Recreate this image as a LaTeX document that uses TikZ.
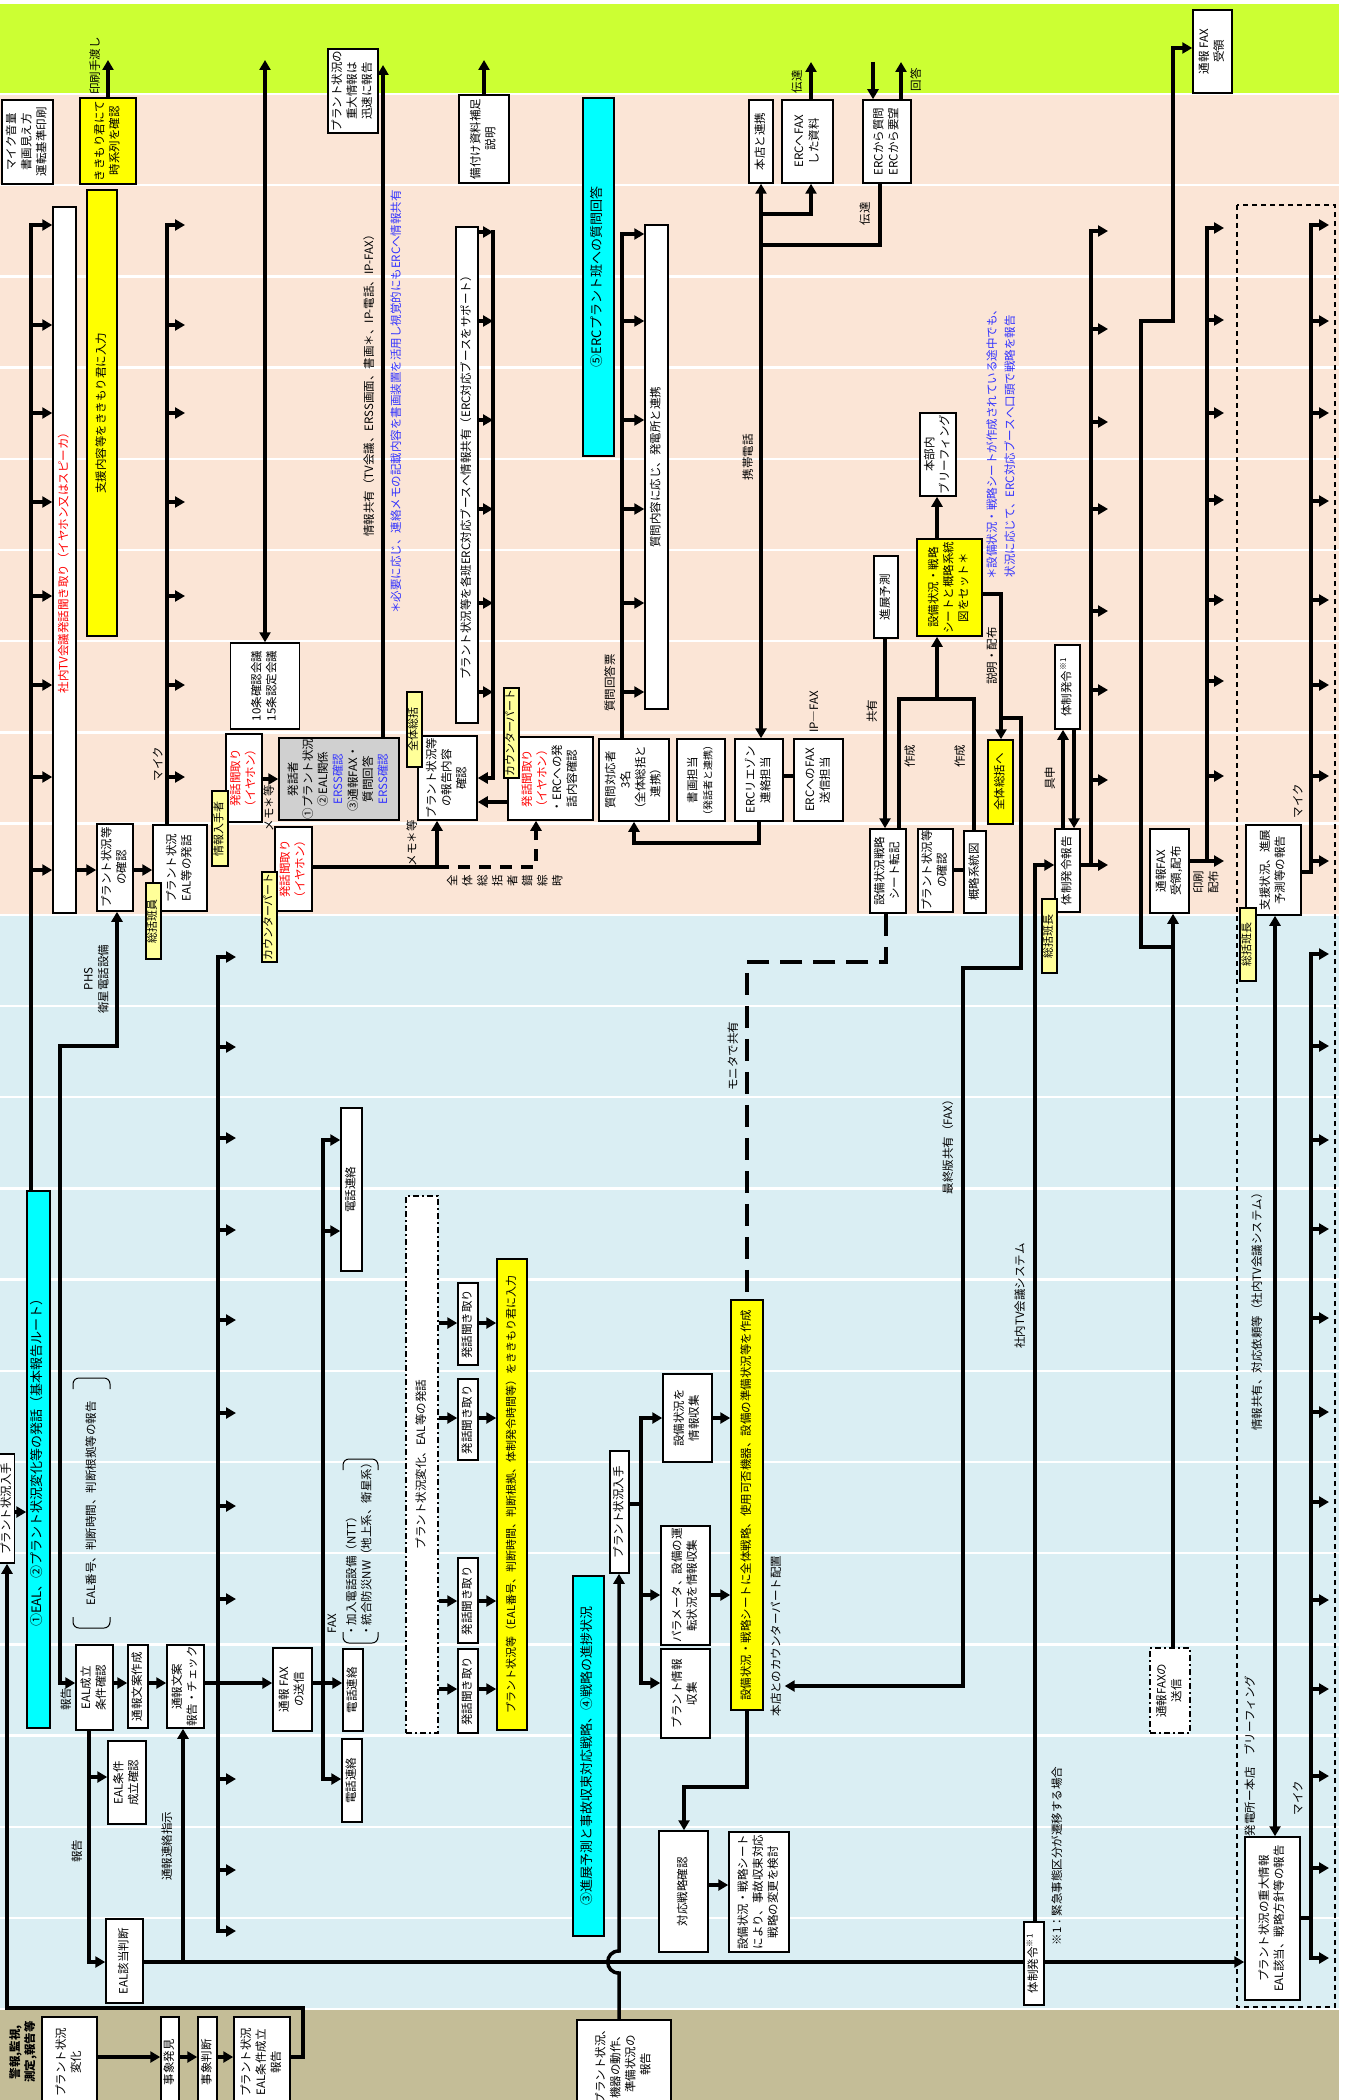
\documentclass[tikz,border=0pt]{standalone}
\usepackage{fontspec}
\setmainfont{Noto Sans CJK JP}
\usepackage{graphicx}
\usetikzlibrary{arrows.meta,positioning,calc}
\definecolor{bandgreen}{RGB}{204,255,51}
\definecolor{bandpeach}{RGB}{251,229,214}
\definecolor{bandblue}{RGB}{218,238,243}
\definecolor{bandtan}{RGB}{196,189,151}
\definecolor{tagyellow}{RGB}{255,255,153}
\definecolor{boxcyan}{RGB}{0,255,255}
\definecolor{boxyellow}{RGB}{255,255,0}
\definecolor{notered}{RGB}{255,0,0}
\definecolor{noteblue}{RGB}{51,51,255}
\definecolor{boxgray}{RGB}{208,208,208}
\newcommand{\vt}[1]{\rotatebox{90}{\begin{tabular}{@{}c@{}}#1\end{tabular}}}
\newcommand{\vtl}[1]{\rotatebox{90}{\begin{tabular}{@{}l@{}}#1\end{tabular}}}

\begin{document}
\begin{tikzpicture}[x=1pt,y=-1pt,
  every node/.style={font=\fontsize{11.5}{15}\selectfont},
  box/.style={draw,line width=1.5pt,fill=white,inner sep=0pt},
  ybox/.style={box,fill=boxyellow},
  cbox/.style={box,fill=boxcyan,font=\fontsize{13}{16}\selectfont},
  gbox/.style={box,fill=boxgray},
  ddbox/.style={box,dash pattern=on 6pt off 3pt on 2pt off 3pt},
  tag/.style={draw,line width=1.2pt,fill=tagyellow,inner sep=0pt,font=\fontsize{11}{13}\selectfont},
  lbl/.style={inner sep=0pt},
  wire/.style={line width=3.5pt},
  flow/.style={line width=3.5pt,-{Triangle[length=10pt,width=11pt]}},
  twoway/.style={line width=3.5pt,{Triangle[length=10pt,width=11pt]}-{Triangle[length=10pt,width=11pt]}},
  mdash/.style={line width=3.5pt,dash pattern=on 22pt off 11pt},
  sdash/.style={line width=3.5pt,dash pattern=on 12pt off 9pt}]

\useasboundingbox (0,0) rectangle (1367,2100);
\clip (0,0) rectangle (1367,2100);

% background bands
\fill[bandgreen] (0,4) rectangle (1339,94);
\fill[bandpeach] (0,94) rectangle (1339,915);
\fill[bandblue] (0,915) rectangle (1339,2009);
\fill[bandtan] (0,2009) rectangle (1339,2100);
\foreach \k in {0,...,21}
  \draw[white,line width=2.5pt] (0,94+91.2*\k) -- (1339,94+91.2*\k);

% ---------- left columns (peach)
\node[box,minimum width=51,minimum height=84] (mic) at (27.5,142) {\vt{マイク音量\\書画見え方\\運転基準印刷}};
\node[ybox,minimum width=56,minimum height=86] (kikichk) at (108,141) {\vt{ききもり君にて\\時系列を確認}};
\draw[flow] (kikichk.north) -- (108,60);
\node[lbl] (handout) at (96,66) {\vt{印刷手渡し}};
\node[ybox,minimum width=30,minimum height=446] (kikiin) at (102,413) {\vt{支援内容等をききもり君に入力}};
\node[box,text=notered,minimum width=23,minimum height=706] (tvlisten) at (64.5,560) {\vt{社内TV会議発話聞き取り（イヤホン又はスピーカ）}};

\node[box,minimum width=36,minimum height=87] (pcheck) at (115,867.5) {\vt{プラント状況等\\の確認}};
\node[box,minimum width=54,minimum height=86] (pspeak) at (180,868) {\vt{プラント状況\\EAL等の発話}};
\node[tag,minimum width=15,minimum height=76] (sokatsuA) at (153.5,921) {\vt{総括班員}};
\draw[flow] (tvlisten.east |- 0,870) -- (pcheck.west |- 0,870);
\draw[flow] (pcheck.east |- 0,870) -- (pspeak.west |- 0,870);

\node[cbox,minimum width=23,minimum height=537] (eal) at (38.5,1459.5) {\vt{①EAL、②プラント状況変化等の発話（基本報告ルート）}};

% speaker rake 1 (into TV listening)
\draw[flow] (eal.north -| 31,0) |- (tvlisten.west |- 0,225);
\foreach \yy in {325,413,502,596,685,777,870}
  \draw[flow] (31,\yy) -- (tvlisten.west |- 0,\yy);

% speaker rake 2 (microphone)
\draw[flow] (pspeak.north -| 167,0) |- (185,225);
\foreach \yy in {325,413,502,596,685,777}
  \draw[flow] (167,\yy) -- (185,\yy);
\node[lbl] (micA) at (159,764) {\vt{マイク}};

% 10/15 meetings
\node[box,minimum width=69,minimum height=86] (kaigi) at (265,686) {\vt{10条確認会議\\15条認定会議}};
\draw[twoway] (265,60) -- (kaigi.north);

% earphone listeners and speaker
\node[box,text=notered,minimum width=36,minimum height=88] (earA) at (244,778) {\vt{発話聞取り\\（イヤホン）}};
\node[tag,minimum width=16,minimum height=75] (infoget) at (220,828.5) {\vt{情報入手者}};
\node[gbox,minimum width=120,minimum height=82] (speaker) at (339,779) {\vt{発話者\\①プラント状況\\②EAL関係\\{\color{noteblue}ERSS確認}\\③通報FAX・\\質問回答\\{\color{noteblue}ERSS確認}}};
\draw[flow] (earA.east |- 0,779) -- (speaker.west |- 0,779);
\node[lbl] (memoA) at (270,808) {\vt{メモ＊等}};
\node[box,text=notered,minimum width=37,minimum height=84] (earB) at (293.5,869) {\vt{発話聞取り\\（イヤホン）}};
\node[tag,minimum width=15,minimum height=90] (cpartA) at (269.5,917) {\vt{カウンターパート}};

\node[box,minimum width=50,minimum height=84] (jyudai) at (353,91) {\vt{プラント状況の\\重大情報は\\迅速に報告}};
\draw[flow] (speaker.north -| 383,0) -- (383,65);
\node[lbl] (sharenote) at (370,383) {\vt{情報共有（TV会議、ERSS画面、書画＊、IP-電話、IP-FAX）}};
\node[lbl,text=noteblue] (memonote) at (397,402) {\vt{＊必要に応じ、連絡メモの記載内容を書画装置を活用し視覚的にもERCへ情報共有}};

% report check and ERC booth sharing
\node[box,minimum width=59,minimum height=84] (repchk) at (447.5,778) {\vt{プラント状況等\\の報告内容\\確認}};
\node[tag,minimum width=15,minimum height=75] (allsum) at (414.5,729.5) {\vt{全体総括}};
\node[box,minimum width=22,minimum height=496] (ercinfo) at (467,475) {\vt{プラント状況等を各班ERC対応ブースへ情報共有（ERC対応ブースをサポート）}};
\draw[flow] (493,230.3) -- (493,778) -- (repchk.east);
\foreach \yy in {232,321,420,509,603,692}
  \draw[flow] (ercinfo.east |- 0,\yy) -- (493,\yy);
\node[box,minimum width=85,minimum height=83] (ercspk) at (550.5,778.5) {\vt{{\color{notered}発話聞取り}\\{\color{notered}（イヤホン）}\\・ERCへの発\\話内容確認}};
\node[tag,minimum width=15,minimum height=90] (cpartB) at (511.5,733) {\vt{カウンターパート}};
\draw[flow] (ercspk.west |- 0,802) -- (repchk.east |- 0,802);
\draw[flow] (earB.east |- 0,867) -| (repchk.south -| 437,0);
\draw[flow,sdash] (437,867) -| (ercspk.south -| 536,0);
\node[lbl] (memoB) at (413,843) {\vt{メモ＊等}};
\node[lbl] (busy) at (506,881) {\vt{全\\体\\総\\括\\者\\錯\\綜\\時}};

% ERC answer column
\node[box,minimum width=50,minimum height=88] (bizuke) at (484,139) {\vt{備付け資料補足\\説明}};
\draw[flow] (bizuke.north) -- (484,60);
\node[cbox,minimum width=31,minimum height=358] (erc5) at (598.5,277) {\vt{⑤ERCプラント班への質問回答}};
\node[box,minimum width=23,minimum height=484] (qtall) at (656.5,467) {\vt{質問内容に応じ、発電所と連携}};
\node[box,minimum width=70,minimum height=82] (qresp) at (634,780) {\vt{質問対応者\\3名\\（全体総括と\\連携）}};
\draw[flow] (qresp.north -| 622,0) |- (qtall.west |- 0,234);
\foreach \yy in {321,420,509,603,692}
  \draw[flow] (622,\yy) -- (qtall.west |- 0,\yy);
\node[lbl] (qsheet) at (611,683) {\vt{質問回答票}};
\node[box,minimum width=48,minimum height=82] (shoga) at (701,780) {\vt{書画担当\\{\fontsize{10}{13}\selectfont（発話者と連携）}}};
\node[box,minimum width=48,minimum height=82] (liaison) at (759,780) {\vt{ERCリエゾン\\連絡担当}};
\node[box,minimum width=49,minimum height=82] (faxsend) at (818.5,780) {\vt{ERCへのFAX\\送信担当}};
\draw[wire] (liaison.east |- 0,776) -- (faxsend.west |- 0,776);
\draw[flow] (liaison.south) -- (759,843) -| (qresp.south);
\node[lbl] (ipfax) at (815,712) {\vt{IP―FAX}};

% head office / ERC boxes (green)
\node[box,minimum width=24,minimum height=83] (honten) at (761,141.5) {\vt{本店と連携}};
\node[box,minimum width=51,minimum height=83] (ercfax) at (807.5,141.5) {\vt{ERCへFAX\\した資料}};
\node[box,minimum width=48,minimum height=83] (ercq) at (887,141.5) {\vt{ERCから質問\\ERCから要望}};
\draw[flow] (ercfax.north -| 811,0) -- (811,62);
\node[lbl] (dentA) at (798,82) {\vt{伝達}};
\draw[flow] (873,62) -- (ercq.north -| 873,0);
\draw[flow] (ercq.north -| 901,0) -- (901,62);
\node[lbl] (kaito) at (917,80) {\vt{回答}};
\draw[twoway] (honten.south) -- (honten.south |- liaison.north);
\draw[flow] (761,214) -| (ercfax.south -| 811,0);
\draw[wire] (761,245) -| (ercq.south -| 880,0);
\node[lbl] (dentB) at (866,214) {\vt{伝達}};
\node[lbl] (keitai) at (749,457) {\vt{携帯電話}};

% progress / strategy sheet
\node[box,minimum width=24,minimum height=82] (shinten) at (886,597) {\vt{進展予測}};
\node[box,minimum width=36,minimum height=84] (tenki) at (888,871) {\vt{設備状況戦略\\シート転記}};
\draw[flow] (shinten.south -| 885,0) -- (tenki.north -| 885,0);
\node[lbl] (kyoyu) at (873,711) {\vt{共有}};
\node[ybox,minimum width=65,minimum height=97] (setsheet) at (949.5,587.5) {\vt{設備状況・戦略\\シートと概略系統\\図をセット＊}};
\node[box,minimum width=36,minimum height=83] (honbu) at (938,454.5) {\vt{本部内\\ブリーフィング}};
\draw[flow] (setsheet.north -| 937,0) -- (honbu.south -| 937,0);
\node[box,minimum width=35,minimum height=83] (pcheckB) at (935.5,870.5) {\vt{プラント状況等\\の確認}};
\node[box,minimum width=22,minimum height=82] (gaiyaku) at (975,872) {\vt{概略系統図}};
\draw[wire] (pcheckB.east |- 0,870) -- (gaiyaku.west |- 0,870);
\draw[wire] (tenki.north -| 899,0) |- (974,699) -- (gaiyaku.north -| 974,0);
\draw[flow] (937,699) -- (setsheet.south -| 937,0);
\node[lbl] (sakuA) at (911,756) {\vt{作成}};
\node[lbl] (sakuB) at (961,756) {\vt{作成}};
\node[ybox,minimum width=25,minimum height=84] (tozentai) at (1000.5,782) {\vt{全体総括へ}};
\draw[flow] (setsheet.east |- 0,594) -| (tozentai.north -| 1001,0);
\node[lbl] (setsumei) at (993,656) {\vt{説明・配布}};
\node[lbl,text=noteblue] (setnote) at (1002,442) {\vtl{＊設備状況・戦略シートが作成されている途中でも、\\[3pt]\ 状況に応じて、ERC対応ブースへ口頭で戦略を報告}};

% emergency declaration
\node[box,minimum width=25,minimum height=84] (taiseiA) at (1067.5,687) {\vt{体制発令\textsuperscript{※1}}};
\node[box,minimum width=25,minimum height=83] (taiseirep) at (1067.5,870.5) {\vt{体制発令報告}};
\draw[flow] (taiseirep.north -| 1063,0) -- (taiseiA.south -| 1063,0);
\draw[flow] (taiseiA.south -| 1074,0) -- (taiseirep.north -| 1074,0);
\node[lbl] (gushin) at (1051,778) {\vt{具申}};
\node[tag,minimum width=15,minimum height=74] (sokatsuB) at (1049.5,936) {\vt{総括班長}};
\draw[flow] (taiseirep.east |- 0,865) -- (1108,865);
\draw[flow] (1091,866.7) |- (1108,231);
\foreach \yy in {329,422,509,611,690,780}
  \draw[flow] (1091,\yy) -- (1108,\yy);

% notification fax
\node[box,minimum width=39,minimum height=83] (faxrecv) at (1212.5,51.5) {\vt{通報 FAX\\受領}};
\node[box,minimum width=39,minimum height=84] (faxdist) at (1169.5,871) {\vt{通報FAX\\受領,配布}};
\draw[flow] (faxdist.east |- 0,861) -- (1224,861);
\draw[flow] (1207,862.7) |- (1224,228);
\foreach \yy in {320,413,500,600,681,776}
  \draw[flow] (1207,\yy) -- (1224,\yy);
\node[lbl] (insatsu) at (1207,882) {\vt{印刷\\配布}};
\node[ddbox,minimum width=40,minimum height=85] (faxout2) at (1170,1690.5) {\vt{通報FAXの\\送信}};
\draw[flow] (faxout2.north -| 1173,0) -- (faxdist.south -| 1173,0);
\draw[flow] (1173,947) -| (1141,321) -| (1173,48) -- (faxrecv.west |- 0,48);

% plant - head office briefing frame
\draw[line width=1.5pt,dash pattern=on 5pt off 4pt] (1237,205) rectangle (1335,2007);
\node[box,minimum width=55,minimum height=90] (shien) at (1273.5,870) {\vt{支援状況、進展\\予測等の報告}};
\node[tag,minimum width=16,minimum height=73] (sokatsuC) at (1248,944.5) {\vt{総括班長}};
\draw[flow] (shien.east |- 0,872) -| (1311,225) -- (1329,225);
\foreach \yy in {321,413,501,600,685,776,861}
  \draw[flow] (1311,\yy) -- (1329,\yy);
\node[lbl] (micB) at (1299,801) {\vt{マイク}};
\node[box,minimum width=55,minimum height=163] (majorinfo) at (1272.5,1918.5) {\vt{プラント状況の重大情報\\EAL該当、戦略方針等の報告}};
\draw[twoway] (shien.south -| 1275,0) -- (majorinfo.north -| 1275,0);
\node[lbl] (tvshare) at (1258,1309) {\vt{情報共有、対応依頼等（社内TV会議システム）}};
\node[lbl] (brief) at (1251,1756) {\vt{発電所ー本店　ブリーフィング}};
\draw[wire] (majorinfo.east |- 0,1918) -- (1311,1918);
\draw[flow] (1311,1959.7) |- (1329,954);
\foreach \yy in {1046,1140,1229,1318,1412,1502,1600,1689,1776,1868}
  \draw[flow] (1311,\yy) -- (1329,\yy);
\draw[flow] (1309.3,1958) -- (1329,1958);
\node[lbl] (micC) at (1299,1798) {\vt{マイク}};

% ---------- blue area, basic report route
\node[box,minimum width=14,minimum height=109] (pgetA) at (7,1508.5) {\vt{プラント状況入手}};
\draw[flow] (pgetA.east |- 0,1512) -- (eal.west |- 0,1512);
\node[box,minimum width=37,minimum height=85] (ealcond) at (94.5,1687.5) {\vt{EAL成立\\条件確認}};
\draw[twoway] (ealcond.west |- 0,1683) -| (60,1046) -| (pcheck.south -| 117,0);
\node[lbl] (phs) at (97,979) {\vt{PHS\\衛星電話設備}};
\node[lbl] (hokokuA) at (67,1699) {\vt{報告}};
\node[lbl] (ealitems) at (92,1503) {\vt{EAL番号、判断時間、判断根拠等の報告}};
\draw[line width=1pt,rounded corners=6pt] (73,1389) -- (73,1378) -- (110,1378) -- (110,1389);
\draw[line width=1pt,rounded corners=6pt] (73,1617) -- (73,1628) -- (110,1628) -- (110,1617);

\node[box,minimum width=20,minimum height=83] (draft) at (138,1686.5) {\vt{通報文案作成}};
\node[box,minimum width=37,minimum height=83] (draftchk) at (185.5,1686.5) {\vt{通報文案\\報告・チェック}};
\node[box,minimum width=39,minimum height=83] (faxout) at (292.5,1689.5) {\vt{通報 FAX\\の送信}};
\node[box,minimum width=20,minimum height=82] (telB) at (353,1690) {\vt{電話連絡}};
\draw[flow] (ealcond.east |- 0,1683) -- (draft.west |- 0,1683);
\draw[flow] (draft.east |- 0,1683) -- (draftchk.west |- 0,1683);
\draw[flow] (draftchk.east |- 0,1683) -- (faxout.west |- 0,1683);
\draw[flow] (faxout.east |- 0,1683) -- (telB.west |- 0,1683);

% rake from report check
\draw[flow] (218,1932.7) |- (236,957);
\foreach \yy in {1047,1138,1230,1320,1413,1506,1599,1779,1870}
  \draw[flow] (218,\yy) -- (236,\yy);
\draw[flow] (216.3,1931) -- (236,1931);

% telephone contacts
\node[box,minimum width=21,minimum height=163] (telA) at (351.5,1189.5) {\vt{電話連絡}};
\node[box,minimum width=20,minimum height=83] (telC) at (352,1780.5) {\vt{電話連絡}};
\draw[twoway] (telC.west |- 0,1779) -| (323,1140) -- (telA.west |- 0,1140);
\draw[flow] (323,1231) -- (telA.west |- 0,1231);
\node[lbl] (faxlbl) at (333,1624) {\vt{FAX}};
\node[lbl] (faxnet) at (360,1547) {\vtl{・加入電話設備（NTT）\\・統合防災NW（地上系、衛星系）}};
\draw[line width=1pt,rounded corners=6pt] (343,1470) -- (343,1459) -- (378,1459) -- (378,1470);
\draw[line width=1pt,rounded corners=6pt] (343,1632) -- (343,1643) -- (378,1643) -- (378,1632);

\node[box,minimum width=38,minimum height=83] (eacond) at (127,1782.5) {\vt{EAL条件\\成立確認}};
\node[box,minimum width=37,minimum height=84] (ealjudge) at (124.5,1961) {\vt{EAL該当判断}};
\draw[flow] (ealcond.south -| 89,0) |- (ealjudge.west |- 0,1962);
\draw[flow] (89,1777) -- (eacond.west |- 0,1777);
\node[lbl] (hokokuB) at (78,1851) {\vt{報告}};
\draw[flow] (183,1962) -- (draftchk.south -| 183,0);
\node[lbl] (shiji) at (168,1846) {\vt{通報連絡指示}};

% plant change speech and listeners
\node[ddbox,minimum width=32,minimum height=537] (pchange) at (422,1464.5) {\vt{プラント状況変化、EAL等の発話}};
\node[box,minimum width=20,minimum height=82] (lisA) at (468,1324) {\vt{発話聞き取り}};
\node[box,minimum width=20,minimum height=81] (lisB) at (468,1419.5) {\vt{発話聞き取り}};
\node[box,minimum width=20,minimum height=85] (lisC) at (468,1600.5) {\vt{発話聞き取り}};
\node[box,minimum width=20,minimum height=84] (lisD) at (468,1691) {\vt{発話聞き取り}};
\node[ybox,minimum width=30,minimum height=471] (kikiinB) at (512,1494.5) {\vt{\fontsize{11}{14}\selectfont プラント状況等（EAL番号、判断時間、判断根拠、体制発令時間等）をききもり君に入力}};
\foreach \n/\yy in {lisA/1323,lisB/1418,lisC/1601,lisD/1689}{
  \draw[flow] (pchange.east |- 0,\yy) -- (\n.west |- 0,\yy);
  \draw[flow] (\n.east |- 0,\yy) -- (kikiinB.west |- 0,\yy);
}

% progress prediction and strategy
\node[cbox,minimum width=31,minimum height=360] (prog) at (588.5,1756) {\vt{③進展予測と事故収束対応戦略、④戦略の進捗状況}};
\node[box,minimum width=19,minimum height=122] (pgetB) at (619.5,1512) {\vt{プラント状況入手}};
\node[box,minimum width=94,minimum height=88] (plantrep) at (624,2064) {\vt{プラント状況、\\機器の動作、\\準備状況の\\報告}};
\draw[flow] (plantrep.north -| 619,0) -- (619,1973) .. controls (604,1973) and (604,1951) .. (619,1951) -- (pgetB.south -| 619,0);
\node[box,minimum width=49,minimum height=88] (eqinfo) at (687.5,1418) {\vt{設備状況を\\情報収集}};
\node[box,minimum width=49,minimum height=119] (param) at (685.5,1585.5) {\vt{パラメータ、設備の運\\転状況を情報収集}};
\node[box,minimum width=49,minimum height=89] (pinfo) at (685.5,1693.5) {\vt{プラント情報\\収集}};
\draw[wire] (pgetB.east |- 0,1504) -- (641,1504);
\draw[flow] (641,1504) |- (eqinfo.west);
\draw[flow] (641,1504) |- (pinfo.west |- 0,1683);
\draw[flow] (641,1595) -- (param.west |- 0,1595);
\node[ybox,minimum width=32,minimum height=410] (sheet) at (747,1505) {\vt{設備状況・戦略シートに全体戦略、使用可否機器、設備の準備状況等を作成}};
\draw[flow] (eqinfo.east) -- (sheet.west |- eqinfo.east);
\draw[flow] (param.east |- 0,1595) -- (sheet.west |- 0,1595);
\node[lbl] (cpnote) at (777,1636) {\vt{本店とのカウンターパート配置}};
\draw[mdash] (tenki.south -| 886,0) |- (747,962) -- (sheet.north);
\node[lbl] (monitor) at (734,1056) {\vt{モニタで共有}};
\draw[wire] (1001,718) -| (1021,968) -- (963,968);
\draw[flow] (963,966.3) -- (963,1686) -- (cpnote.east |- 0,1686);
\node[lbl] (finalfax) at (949,1144) {\vt{最終版共有（FAX）}};
\node[box,minimum width=49,minimum height=121] (strat) at (683.5,1891.5) {\vt{対応戦略確認}};
\node[box,minimum width=60,minimum height=120] (stratchg) at (759,1892) {\vt{設備状況・戦略シート\\により、事故収束対応\\戦略の変更を検討}};
\draw[flow] (sheet.south) -- (747,1787) -| (strat.north -| 684,0);
\draw[flow] (strat.east |- 0,1885) -- (stratchg.west |- 0,1885);

% declaration line to head office
\draw[flow] (ealjudge.east |- 0,1962) -- (majorinfo.west |- 0,1962);
\node[box,minimum width=20,minimum height=83] (taiseiB) at (1034,1963.5) {\vt{体制発令\textsuperscript{※1}}};
\draw[flow] (taiseiB.north -| 1035,0) |- (taiseirep.west |- 0,865);
\node[tag,minimum width=15,minimum height=73] (sokatsuD) at (1049.5,936) {\vt{総括班長}};
\node[lbl] (tvsys) at (1021,1296) {\vt{社内TV会議システム}};
\node[lbl] (note1) at (1058,1856) {\vt{※1：緊急事態区分が遷移する場合}};

% ---------- tan band (plant)
\node[lbl,font=\fontsize{11.5}{15}\selectfont\bfseries] (alarm) at (23.5,2052) {\vt{警報,監視,\\測定,報告等}};
\node[box,minimum width=55,minimum height=90] (pchg) at (69.5,2062) {\vt{プラント状況\\変化}};
\node[box,minimum width=18,minimum height=90] (found) at (170,2062) {\vt{事象発見}};
\node[box,minimum width=19,minimum height=90] (judge) at (207.5,2062) {\vt{事象判断}};
\node[box,minimum width=56,minimum height=90] (ealrep) at (262,2062) {\vt{プラント状況\\EAL条件成立\\報告}};
\draw[flow] (pchg.east |- 0,2057) -- (found.west |- 0,2057);
\draw[flow] (found.east |- 0,2057) -- (judge.west |- 0,2057);
\draw[flow] (judge.east |- 0,2057) -- (ealrep.west |- 0,2057);
\draw[flow] (ealrep.east |- 0,2057) -| (303,2008) -| (pgetA.south);

\end{tikzpicture}
\end{document}
